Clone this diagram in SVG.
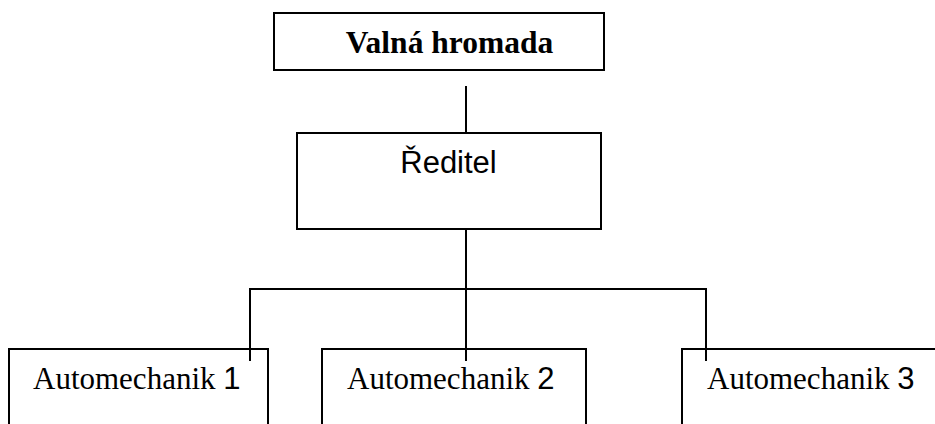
<svg xmlns="http://www.w3.org/2000/svg" width="935" height="424" viewBox="0 0 935 424">
<style>
.box{fill:none;stroke:#000;stroke-width:2}
.ln{fill:none;stroke:#000;stroke-width:2}
.serif{font-family:"Liberation Serif","Times New Roman",serif;font-size:31px;fill:#000}
.sans{font-family:"Liberation Sans",Arial,sans-serif;font-size:31px;fill:#000}
.bold{font-weight:bold;font-size:31.5px}
</style>
<rect width="935" height="424" fill="#fff"/>
<g id="valna-hromada">
<rect class="box" x="274" y="13" width="330" height="57"/>
<text class="serif bold" x="449.5" y="53" text-anchor="middle">Valná hromada</text>
</g>
<g id="reditel">
<rect class="box" x="297" y="133" width="304" height="96"/>
<text class="sans" x="448.5" y="173" text-anchor="middle">Ředitel</text>
</g>
<g id="automechanik-1">
<rect class="box" x="9" y="349" width="259" height="90"/>
<text class="serif" x="33" y="389">Automechanik <tspan class="sans">1</tspan></text>
</g>
<g id="automechanik-2">
<rect class="box" x="322" y="349" width="264" height="90"/>
<text class="serif" x="347" y="389">Automechanik <tspan class="sans">2</tspan></text>
</g>
<g id="automechanik-3">
<rect class="box" x="682" y="349" width="270" height="90"/>
<text class="serif" x="707" y="389">Automechanik <tspan class="sans">3</tspan></text>
</g>
<g id="connectors">
<line class="ln" x1="466" y1="86" x2="466" y2="133"/>
<line class="ln" x1="466" y1="229" x2="466" y2="361"/>
<polyline class="ln" points="250,361 250,289 706,289 706,361"/>
</g>
</svg>
